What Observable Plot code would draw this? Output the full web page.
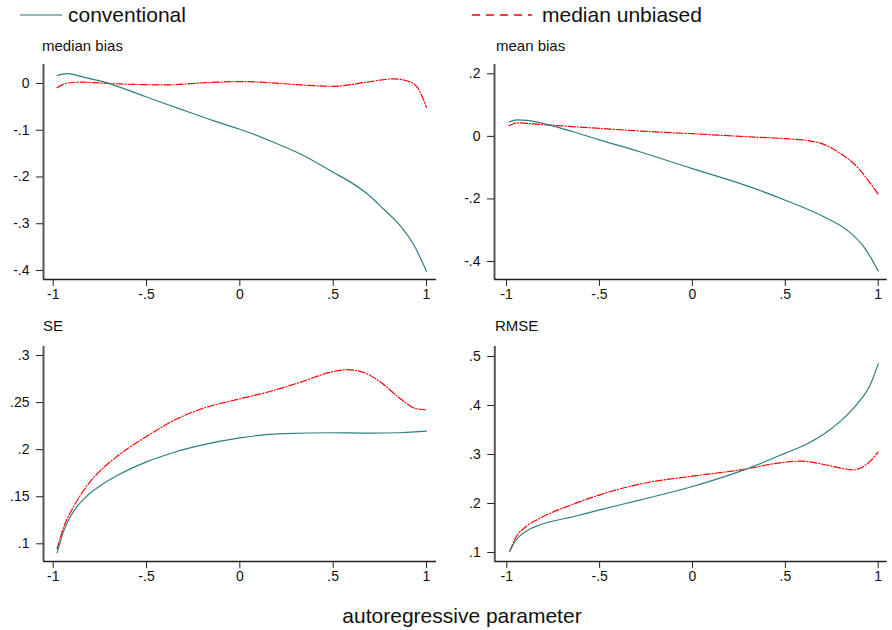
<!DOCTYPE html>
<html>
<head>
<meta charset="utf-8">
<script src="https://cdn.jsdelivr.net/npm/d3@7"></script>
<script src="https://cdn.jsdelivr.net/npm/@observablehq/plot@0.6"></script>
<style>
  body { margin: 0; background: #fff; font-family: "Liberation Sans", Arial, sans-serif; }
  #wrap { position: relative; width: 892px; height: 630px; overflow: hidden; }
  .abs { position: absolute; }
  .ptitle { font-size: 15px; color: #111; line-height: 16px; }
  .leg { font-size: 21px; color: #111; line-height: 24px; }
</style>
</head>
<body>
<div id="wrap">
  <div id="p1" class="abs" style="left:0;top:60px"></div>
  <div id="p2" class="abs" style="left:446px;top:60px"></div>
  <div id="p3" class="abs" style="left:0;top:342px"></div>
  <div id="p4" class="abs" style="left:446px;top:342px"></div>
  <svg class="abs" style="left:0;top:0" width="892" height="30">
    <line x1="20" x2="62" y1="15" y2="15" stroke="#8fb8b8" stroke-width="2"></line>
    <line x1="472" x2="532" y1="15" y2="15" stroke="#ff0000" stroke-width="1.3" stroke-dasharray="8,6"></line>
  </svg>
  <div class="abs leg" style="left:68px;top:3px">conventional</div>
  <div class="abs leg" style="left:542px;top:3px">median unbiased</div>
  <div class="abs ptitle" style="left:42px;top:38px">median bias</div>
  <div class="abs ptitle" style="left:496px;top:38px">mean bias</div>
  <div class="abs ptitle" style="left:43px;top:318px">SE</div>
  <div class="abs ptitle" style="left:495px;top:318px">RMSE</div>
  <div class="abs leg" style="left:0;width:924px;top:604px;text-align:center">autoregressive parameter</div>
</div>
<script>
// x tick values (autoregressive parameter)
const xTicks = [-1, -0.5, 0, 0.5, 1];

// Panel: median bias
const medBiasConvX = [-0.979, -0.925, -0.836, -0.746, -0.621, -0.5, -0.389, -0.282, -0.139, 0, 0.146, 0.325, 0.5, 0.593, 0.682, 0.771, 0.861, 0.932, 1.0];
const medBiasConvY = [0.017, 0.021, 0.0136, 0.005, -0.011, -0.029, -0.045, -0.06, -0.08, -0.098, -0.12, -0.151, -0.19, -0.211, -0.236, -0.269, -0.305, -0.345, -0.402];
const medBiasMuX = [-0.979, -0.925, -0.854, -0.746, -0.568, -0.389, -0.211, 0, 0.146, 0.325, 0.5, 0.682, 0.825, 0.914, 0.95, 1.0];
const medBiasMuY = [-0.009, 0.0007, 0.003, 0.001, -0.002, -0.003, 0.001, 0.004, 0.002, -0.003, -0.006, 0.003, 0.010, 0.003, -0.008, -0.051];
const medBiasTicks = [0, -0.1, -0.2, -0.3, -0.4];

// Panel: mean bias
const meanBiasConvX = [-0.987, -0.943, -0.889, -0.817, -0.638, -0.5, -0.279, 0, 0.259, 0.5, 0.708, 0.833, 0.923, 1.0];
const meanBiasConvY = [0.046, 0.053, 0.051, 0.043, 0.014, -0.011, -0.05, -0.103, -0.151, -0.204, -0.257, -0.3, -0.353, -0.43];
const meanBiasMuX = [-0.987, -0.943, -0.817, -0.5, -0.279, 0, 0.259, 0.5, 0.618, 0.708, 0.797, 0.887, 0.959, 1.0];
const meanBiasMuY = [0.034, 0.043, 0.038, 0.0255, 0.017, 0.0085, 0.0, -0.0074, -0.013, -0.0255, -0.055, -0.098, -0.151, -0.185];
const meanBiasTicks = [0.2, 0, -0.2, -0.4];

// Panel: SE
const seConvX = [-0.979, -0.943, -0.889, -0.818, -0.746, -0.657, -0.5, -0.354, -0.211, 0, 0.236, 0.5, 0.682, 0.861, 1.0];
const seConvY = [0.0904, 0.114, 0.135, 0.151, 0.162, 0.1725, 0.187, 0.197, 0.2045, 0.2126, 0.217, 0.218, 0.2175, 0.218, 0.2196];
const seMuX = [-0.979, -0.943, -0.889, -0.818, -0.746, -0.657, -0.5, -0.354, -0.211, 0, 0.146, 0.325, 0.5, 0.575, 0.664, 0.754, 0.861, 0.932, 1.0];
const seMuY = [0.0947, 0.118, 0.14, 0.162, 0.178, 0.193, 0.214, 0.231, 0.243, 0.254, 0.261, 0.2717, 0.283, 0.285, 0.282, 0.2717, 0.254, 0.2444, 0.2423];
const seTicks = [0.1, 0.15, 0.2, 0.25, 0.3];

// Panel: RMSE
const rmseConvX = [-0.984, -0.952, -0.889, -0.817, -0.638, -0.5, -0.279, 0, 0.259, 0.5, 0.618, 0.708, 0.797, 0.887, 0.959, 1.0];
const rmseConvY = [0.1027, 0.1245, 0.145, 0.157, 0.1735, 0.187, 0.2075, 0.2347, 0.266, 0.3027, 0.3218, 0.342, 0.368, 0.4034, 0.444, 0.485];
const rmseMuX = [-0.984, -0.952, -0.889, -0.817, -0.638, -0.5, -0.279, 0, 0.259, 0.5, 0.582, 0.708, 0.797, 0.869, 0.941, 1.0];
const rmseMuY = [0.1027, 0.130, 0.155, 0.1707, 0.1993, 0.2177, 0.240, 0.2558, 0.2687, 0.2844, 0.2864, 0.2796, 0.2721, 0.2687, 0.281, 0.3048];
const rmseTicks = [0.1, 0.2, 0.3, 0.4, 0.5];

const TEAL = "#2e7f80";
const RED = "#ff0000";
const fmt = d => d === 0 ? "0" : String(+d.toFixed(3)).replace(/^(-?)0\./, "$1.");

function rows(xs, ys) { return xs.map((x, i) => ({x, y: ys[i]})); }

function panel(id, opts) {
  const {left, xDomain, yDomain, yTicks, conv, mu} = opts;
  const chart = Plot.plot({
    width: 446,
    height: 250,
    marginLeft: left,
    marginRight: opts.right,
    marginTop: 4,
    marginBottom: 31,
    style: {fontFamily: "Liberation Sans, Arial, sans-serif", fontSize: "14px", color: "#111", background: "transparent"},
    x: {domain: xDomain},
    y: {domain: yDomain},
    marks: [
      Plot.ruleX([xDomain[0]], {stroke: "#555", strokeWidth: 2}),
      Plot.ruleY([yDomain[0]], {stroke: "#222", strokeWidth: 1.3}),
      Plot.axisX(xTicks, {tickSize: 7, tickPadding: 3, tickFormat: fmt, stroke: "#222", fontSize: 14, label: null}),
      Plot.axisY(yTicks, {tickSize: 7, tickPadding: 7, tickFormat: fmt, stroke: "#222", fontSize: 14, label: null}),
      Plot.line(mu, {x: "x", y: "y", stroke: RED, strokeWidth: 1.2, strokeDasharray: "7,2,1,2", curve: "monotone-x"}),
      Plot.line(conv, {x: "x", y: "y", stroke: TEAL, strokeWidth: 1.2, curve: "monotone-x"})
    ]
  });
  document.getElementById(id).appendChild(chart);
}

panel("p1", {left: 43, right: 10, xDomain: [-1.052, 1.0536], yDomain: [-0.4193, 0.0406], yTicks: medBiasTicks,
  conv: rows(medBiasConvX, medBiasConvY), mu: rows(medBiasMuX, medBiasMuY)});
panel("p2", {left: 48, right: 5.3, xDomain: [-1.0646, 1.0484], yDomain: [-0.4575, 0.2297], yTicks: meanBiasTicks,
  conv: rows(meanBiasConvX, meanBiasConvY), mu: rows(meanBiasMuX, meanBiasMuY)});
panel("p3", {left: 43, right: 10, xDomain: [-1.052, 1.0536], yDomain: [0.0812, 0.3096], yTicks: seTicks,
  conv: rows(seConvX, seConvY), mu: rows(seMuX, seMuY)});
panel("p4", {left: 48.3, right: 5.3, xDomain: [-1.0646, 1.0484], yDomain: [0.0816, 0.5204], yTicks: rmseTicks,
  conv: rows(rmseConvX, rmseConvY), mu: rows(rmseMuX, rmseMuY)});
</script>
</body>
</html>
